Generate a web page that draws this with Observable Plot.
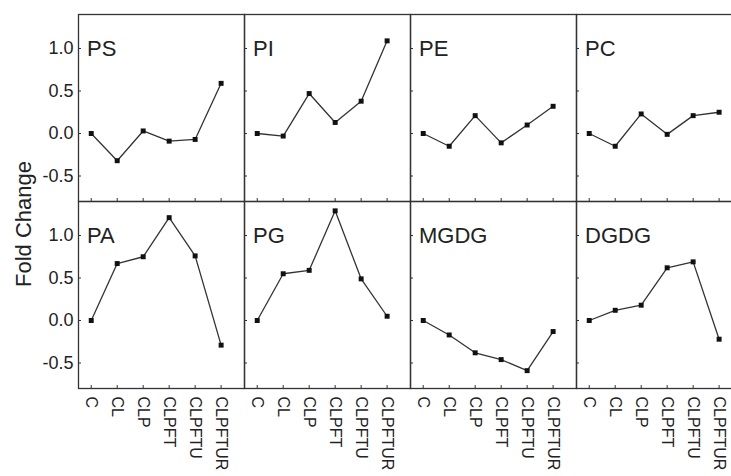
<!DOCTYPE html>
<html><head><meta charset="utf-8">
<script src="https://cdn.jsdelivr.net/npm/d3@7"></script>
<script src="https://cdn.jsdelivr.net/npm/@observablehq/plot@0.6"></script>
<style>
html,body{margin:0;padding:0;overflow:hidden;background:#fff;}
#wrap{position:relative;width:742px;height:476px;overflow:hidden;}
#ylabel{position:absolute;left:24px;top:224px;transform:translate(-50%,-50%) rotate(-90deg);font:22px "Liberation Sans",Arial,sans-serif;color:#222;white-space:nowrap;}
</style></head><body><div id="wrap"><div id="ylabel">Fold Change</div></div>
<script>
const categories = ["C","CL","CLP","CLPFT","CLPFTU","CLPFTUR"];
const lipids = ["PS","PI","PE","PC","PA","PG","MGDG","DGDG"];
const PS   = [0, -0.32, 0.03, -0.09, -0.07, 0.59];
const PI   = [0, -0.03, 0.47, 0.13, 0.38, 1.09];
const PE   = [0, -0.15, 0.21, -0.11, 0.10, 0.32];
const PC   = [0, -0.15, 0.23, -0.01, 0.21, 0.25];
const PA   = [0, 0.67, 0.75, 1.21, 0.76, -0.29];
const PG   = [0, 0.55, 0.59, 1.29, 0.49, 0.05];
const MGDG = [0, -0.17, -0.38, -0.46, -0.59, -0.13];
const DGDG = [0, 0.12, 0.18, 0.62, 0.69, -0.22];
const yTicks = [-0.5, 0, 0.5, 1.0];
const xTicks = [0, 1, 2, 3, 4, 5];

const series = [PS, PI, PE, PC, PA, PG, MGDG, DGDG];
const rows = [];
lipids.forEach((name, k) => series[k].forEach((v, i) =>
  rows.push({lipid: name, col: k % 4, row: Math.floor(k / 4), i, v})));
const labels = lipids.map((name, k) => ({lipid: name, col: k % 4, row: Math.floor(k / 4)}));

const W = 742, ML = 78, MT = 14, MB = 88, H = 476;
const facetW = (W - ML) / 4, facetH = (H - MT - MB) / 2;

const chart = Plot.plot({
  width: W, height: H,
  marginLeft: ML, marginRight: 0, marginTop: MT, marginBottom: MB,
  style: {fontFamily: '"Liberation Sans", Arial, sans-serif', fontSize: "18px", color: "#222", background: "white"},
  fx: {padding: 0, axis: null, domain: [0, 1, 2, 3]},
  fy: {padding: 0, axis: null, domain: [0, 1]},
  x: {domain: [-0.49, 5.9], ticks: xTicks, tickSize: 0, tickPadding: 8, tickRotate: 90, tickFormat: i => categories[i], label: null},
  y: {domain: [-0.8, 1.4], ticks: yTicks, tickSize: 0, tickPadding: 5, tickFormat: d => d.toFixed(1), label: null},
  marks: [
    Plot.tickY(yTicks, {y: d => d, stroke: "#333", insetRight: facetW - 3}),
    Plot.tickX(xTicks, {x: d => d, stroke: "#333", insetTop: facetH - 3}),
    Plot.line(rows, {x: "i", y: "v", fx: "col", fy: "row", stroke: "#333", strokeWidth: 1.3}),
    Plot.dot(rows, {x: "i", y: "v", fx: "col", fy: "row", symbol: "square", r: 2.8, fill: "#111", stroke: "none"}),
    Plot.text(labels, {text: "lipid", fx: "col", fy: "row", frameAnchor: "top-left", dx: 8.5, dy: 26, lineAnchor: "top", textAnchor: "start", fontSize: 22, fill: "#222"}),
    Plot.frame({stroke: "#333", strokeWidth: 1.3})
  ]
});
chart.style.maxWidth = "none";
d3.select(chart).selectAll('g[aria-label="x-axis"], g[aria-label="x-axis tick label"]').style("font-size", "16px");
document.getElementById("wrap").appendChild(chart);
</script></body></html>
